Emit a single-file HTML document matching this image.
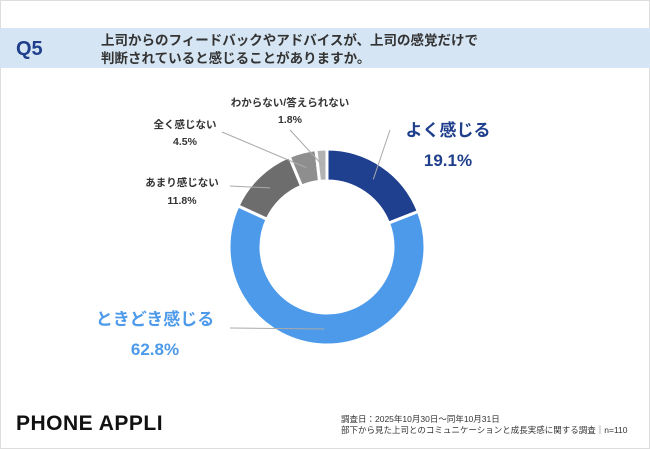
<!DOCTYPE html>
<html><head><meta charset="utf-8"><style>
body{margin:0;width:650px;height:449px;background:#fff;overflow:hidden;font-family:"Liberation Sans","Noto Sans CJK JP",sans-serif}
.frame{position:absolute;left:0;top:0;width:648px;height:447px;border:1px solid #ddd}
.hdr{position:absolute;left:0;top:28px;width:650px;height:40px;background:#d5e5f3}
.q{position:absolute;left:16px;top:38px;font-size:20px;font-weight:bold;color:#1f3f8c}
.qt{position:absolute;left:101px;top:32px;font-size:13.5px;font-weight:bold;color:#333;line-height:18px}
.logo{position:absolute;left:16px;top:412px;font-size:21px;font-weight:bold;color:#111;letter-spacing:0.5px}
.note{position:absolute;left:341px;top:414px;font-size:8.5px;color:#333;line-height:11px}
</style></head><body>
<div class="frame"></div>
<div class="hdr"></div>
<div class="q">Q5</div>
<div class="qt">上司からのフィードバックやアドバイスが、上司の感覚だけで<br>判断されていると感じることがありますか。</div>
<svg id="chart" width="650" height="449" style="position:absolute;left:0;top:0"></svg>
<div class="logo">PHONE APPLI</div>
<div class="note">調査日：2025年10月30日〜同年10月31日<br>部下から見た上司とのコミュニケーションと成長実感に関する調査｜n=110</div>
<script>
const categories=["よく感じる","ときどき感じる","あまり感じない","全く感じない","わからない/答えられない"];
const values=[19.1,62.8,11.8,4.5,1.8];
const colors=["#1f3f8f","#4d9aea","#6d6d6d","#8e8e8e","#b3b3b3"];
const svg=document.getElementById('chart');const NS="http://www.w3.org/2000/svg";
const cx=327,cy=247,R=98,r=66;
const total=values.reduce((a,b)=>a+b,0);
function pt(a,rad){return[cx+rad*Math.sin(a),cy-rad*Math.cos(a)];}
let acc=0;const mids=[];
values.forEach((v,i)=>{
 const a0=acc/total*2*Math.PI,a1=(acc+v)/total*2*Math.PI;acc+=v;
 const lg=a1-a0>Math.PI?1:0;
 const p1=pt(a0,R),p2=pt(a1,R),p3=pt(a1,r),p4=pt(a0,r);
 const p=document.createElementNS(NS,'path');
 p.setAttribute('d',`M${p1}A${R},${R} 0 ${lg} 1 ${p2}L${p3}A${r},${r} 0 ${lg} 0 ${p4}Z`);
 p.setAttribute('fill',colors[i]);p.setAttribute('stroke','#fff');p.setAttribute('stroke-width','3');
 
 
 svg.appendChild(p);mids.push((a0+a1)/2);
});
const labels=[
 {x:448,y:136,y2:166,fs:17,c:"#1f3f8c",lx:390,ly:130},
 {x:155,y:325,y2:355,fs:17,c:"#4d9aea",lx:230,ly:328},
 {x:182,y:186,y2:204,fs:10.5,c:"#333",lx:230,ly:186},
 {x:185,y:128,y2:145,fs:10.5,c:"#333",lx:222,ly:132},
 {x:290,y:106,y2:123,fs:10.5,c:"#333",lx:290,ly:130}
];
labels.forEach((L,i)=>{
 const m=pt(mids[i],(R+r)/2);
 const ln=document.createElementNS(NS,'line');
 ln.setAttribute('x1',L.lx);ln.setAttribute('y1',L.ly);ln.setAttribute('x2',m[0]);ln.setAttribute('y2',m[1]);
 ln.setAttribute('stroke','#aaa');ln.setAttribute('stroke-width','1');
 
 
 svg.appendChild(ln);
 [[categories[i],L.y],[values[i].toFixed(1)+'%',L.y2]].forEach((t,k)=>{
  const tx=document.createElementNS(NS,'text');
  tx.setAttribute('x',L.x);tx.setAttribute('y',t[1]);tx.setAttribute('text-anchor','middle');
  tx.setAttribute('font-size',L.fs);tx.setAttribute('font-weight','bold');tx.setAttribute('fill',L.c);
  tx.setAttribute('font-family','"Liberation Sans","Noto Sans CJK JP",sans-serif');
  tx.textContent=t[0];
  
  
  svg.appendChild(tx);
 });
});
</script>
</body></html>
